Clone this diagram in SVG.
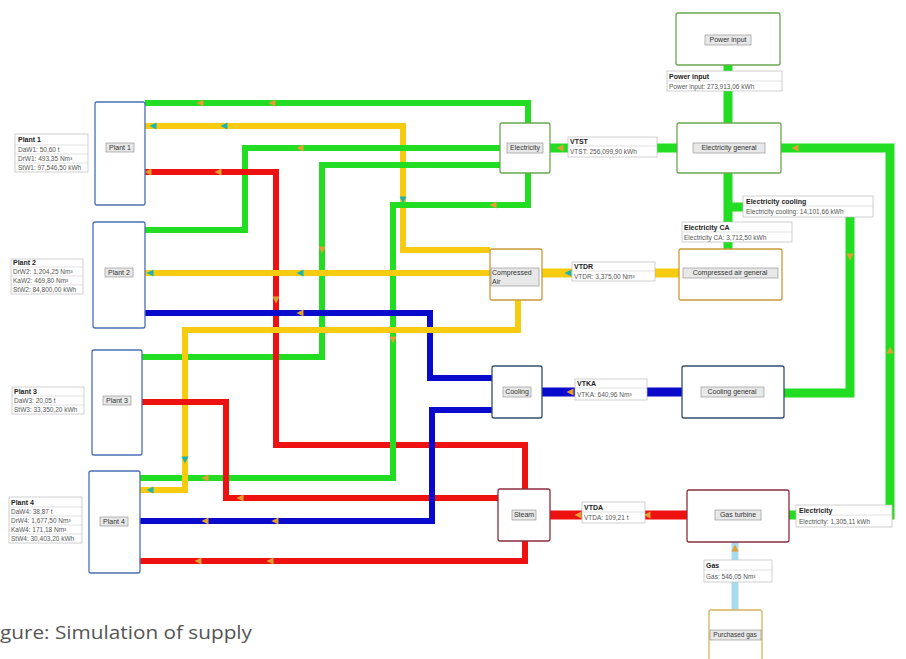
<svg xmlns="http://www.w3.org/2000/svg" width="906" height="659" viewBox="0 0 906 659">
<style>
text{font-family:"Liberation Sans",Arial,sans-serif;fill:#333}
.t{font-size:7px;text-anchor:middle;dominant-baseline:middle}
.h{font-size:7px;font-weight:bold;fill:#222}
.v{font-size:6.5px;fill:#555}
.ib{fill:#e8e8e8;stroke:#888;stroke-width:0.6}
.lb{fill:#fff;stroke:#bbb;stroke-width:0.7}
.p{fill:none;stroke-linejoin:miter}
.g{stroke:#22dd22}.y{stroke:#f7cc10}.r{stroke:#ee1111}.b{stroke:#0a0acc}.lbl{stroke:#a8daf0}
.n{fill:#fff;stroke-width:1.3}
.pl{stroke:#4a6fb5}.el{stroke:#6aa84f}.ca{stroke:#c99a3a}.co{stroke:#2f4f6f}.st{stroke:#8b2e3e}.pg{stroke:#d6b45a}
</style>
<defs>
<path id="ao" d="M-3.5,-3.5 L3.5,0 L-3.5,3.5 Z" fill="#e2a030"/>
<path id="ac" d="M-3.5,-3.5 L3.5,0 L-3.5,3.5 Z" fill="#1fb2b0"/>
</defs>
<rect width="906" height="659" fill="#fff"/>
<g id="connectors">
<polyline class="p g" stroke-width="6" points="145,103 528,103 528,123"/>
<polyline class="p y" stroke-width="6" points="145,126 403,126 403,250 490,250"/>
<polyline class="p g" stroke-width="6" points="145,230 245,230 245,148 500,148"/>
<polyline class="p g" stroke-width="6" points="500,165 322,165 322,357 142,357"/>
<polyline class="p r" stroke-width="6" points="145,172 276,172 276,445 525,445 525,489"/>
<polyline class="p g" stroke-width="6" points="528,173 528,205 393,205 393,478 140,478"/>
<polyline class="p y" stroke-width="6" points="145,273 490,273"/>
<polyline class="p b" stroke-width="6" points="145,313 430,313 430,378 492,378"/>
<polyline class="p y" stroke-width="6" points="518,300 518,330 185,330 185,490 140,490"/>
<polyline class="p r" stroke-width="6" points="142,402 226,402 226,498 498,498"/>
<polyline class="p b" stroke-width="6" points="140,521 432,521 432,410 492,410"/>
<polyline class="p r" stroke-width="6" points="140,561 525,561 525,541"/>
<line class="p g" stroke-width="9" x1="728" y1="65" x2="728" y2="123"/>
<line class="p g" stroke-width="9" x1="550" y1="148" x2="677" y2="148"/>
<line class="p g" stroke-width="9" x1="728" y1="173" x2="728" y2="249"/>
<polyline class="p g" stroke-width="9" points="728,207 850,207 850,393 784,393"/>
<polyline class="p g" stroke-width="9" points="781,148 890,148 890,515 789,515"/>
<line class="p y" stroke-width="9" x1="542" y1="273" x2="679" y2="273"/>
<line class="p b" stroke-width="9" x1="542" y1="392" x2="682" y2="392"/>
<line class="p r" stroke-width="9" x1="550" y1="515" x2="687" y2="515"/>
<line class="p lbl" stroke-width="7" x1="735" y1="542" x2="735" y2="610"/>
<use href="#ao" transform="translate(200,103) rotate(180)"/>
<use href="#ao" transform="translate(272,103) rotate(180)"/>
<use href="#ac" transform="translate(153,126) rotate(180)"/>
<use href="#ac" transform="translate(224,126) rotate(180)"/>
<use href="#ac" transform="translate(403,200) rotate(90)"/>
<use href="#ao" transform="translate(148,172) rotate(180)"/>
<use href="#ao" transform="translate(218,172) rotate(180)"/>
<use href="#ao" transform="translate(276,300) rotate(90)"/>
<use href="#ao" transform="translate(300,148) rotate(180)"/>
<use href="#ao" transform="translate(322,250) rotate(90)"/>
<use href="#ao" transform="translate(393,340) rotate(90)"/>
<use href="#ao" transform="translate(493,205) rotate(180)"/>
<use href="#ac" transform="translate(150,273) rotate(180)"/>
<use href="#ac" transform="translate(300,273) rotate(180)"/>
<use href="#ao" transform="translate(300,313) rotate(180)"/>
<use href="#ac" transform="translate(185,460) rotate(90)"/>
<use href="#ac" transform="translate(150,490) rotate(180)"/>
<use href="#ao" transform="translate(205,478) rotate(180)"/>
<use href="#ao" transform="translate(240,498) rotate(180)"/>
<use href="#ao" transform="translate(205,521) rotate(180)"/>
<use href="#ao" transform="translate(275,521) rotate(180)"/>
<use href="#ao" transform="translate(198,561) rotate(180)"/>
<use href="#ao" transform="translate(270,561) rotate(180)"/>
<use href="#ao" transform="translate(560,148) rotate(180)"/>
<use href="#ac" transform="translate(568,273) rotate(180)"/>
<use href="#ao" transform="translate(570,392) rotate(180)"/>
<use href="#ao" transform="translate(578,515) rotate(180)"/>
<use href="#ao" transform="translate(647,515) rotate(180)"/>
<use href="#ao" transform="translate(850,257) rotate(90)"/>
<use href="#ao" transform="translate(795,148) rotate(180)"/>
<use href="#ao" transform="translate(890,515) rotate(-90)"/>
<use href="#ao" transform="translate(890,350) rotate(-90)"/>
<use href="#ao" transform="translate(735,548) rotate(-90)"/>
</g>
<g id="plant1">
<rect class="n pl" x="95" y="102" width="50" height="103" rx="2"/>
<rect class="ib" x="106" y="143" width="28" height="9"/><text class="t" x="120" y="148">Plant 1</text>
</g>
<g id="plant2">
<rect class="n pl" x="93" y="222" width="52" height="106" rx="2"/>
<rect class="ib" x="105" y="268" width="28" height="9"/><text class="t" x="119" y="273">Plant 2</text>
</g>
<g id="plant3">
<rect class="n pl" x="92" y="350" width="50" height="105" rx="2"/>
<rect class="ib" x="103" y="396" width="28" height="9"/><text class="t" x="117" y="401">Plant 3</text>
</g>
<g id="plant4">
<rect class="n pl" x="89" y="471" width="51" height="102" rx="2"/>
<rect class="ib" x="100" y="517" width="28" height="9"/><text class="t" x="114" y="522">Plant 4</text>
</g>
<g id="label-plant1">
<rect class="lb" x="15" y="134" width="73" height="38"/>
<line x1="15" y1="145" x2="88" y2="145" stroke="#ccc" stroke-width="0.6"/>
<line x1="15" y1="154" x2="88" y2="154" stroke="#ccc" stroke-width="0.6"/>
<line x1="15" y1="163" x2="88" y2="163" stroke="#ccc" stroke-width="0.6"/>
<text class="h" x="18" y="142">Plant 1</text>
<text class="v" x="18" y="152">DaW1: 50,60 t</text>
<text class="v" x="18" y="161">DrW1: 493,35 Nm³</text>
<text class="v" x="18" y="170">StW1: 97,546,50 kWh</text>
</g>
<g id="label-plant2">
<rect class="lb" x="11" y="259" width="72" height="35"/>
<line x1="11" y1="267" x2="83" y2="267" stroke="#ccc" stroke-width="0.6"/>
<line x1="11" y1="276" x2="83" y2="276" stroke="#ccc" stroke-width="0.6"/>
<line x1="11" y1="285" x2="83" y2="285" stroke="#ccc" stroke-width="0.6"/>
<text class="h" x="13" y="265">Plant 2</text>
<text class="v" x="13" y="274">DrW2: 1,204,25 Nm³</text>
<text class="v" x="13" y="283">KaW2: 469,80 Nm³</text>
<text class="v" x="13" y="292">StW2: 84,800,00 kWh</text>
</g>
<g id="label-plant3">
<rect class="lb" x="12" y="387" width="72" height="27"/>
<line x1="12" y1="396" x2="84" y2="396" stroke="#ccc" stroke-width="0.6"/>
<line x1="12" y1="405" x2="84" y2="405" stroke="#ccc" stroke-width="0.6"/>
<text class="h" x="14" y="394">Plant 3</text>
<text class="v" x="14" y="403">DaW3: 20,05 t</text>
<text class="v" x="14" y="412">StW3: 33,350,20 kWh</text>
</g>
<g id="label-plant4">
<rect class="lb" x="9" y="497" width="73" height="46"/>
<line x1="9" y1="507" x2="82" y2="507" stroke="#ccc" stroke-width="0.6"/>
<line x1="9" y1="516" x2="82" y2="516" stroke="#ccc" stroke-width="0.6"/>
<line x1="9" y1="525" x2="82" y2="525" stroke="#ccc" stroke-width="0.6"/>
<line x1="9" y1="534" x2="82" y2="534" stroke="#ccc" stroke-width="0.6"/>
<text class="h" x="11" y="505">Plant 4</text>
<text class="v" x="11" y="514">DaW4: 38,87 t</text>
<text class="v" x="11" y="523">DrW4: 1,677,50 Nm³</text>
<text class="v" x="11" y="532">KaW4: 171,18 Nm³</text>
<text class="v" x="11" y="541">StW4: 30,403,20 kWh</text>
</g>
<g id="electricity">
<rect class="n el" x="500" y="123" width="50" height="50" rx="2"/>
<rect class="ib" x="507" y="143" width="36" height="10"/><text class="t" x="525" y="148">Electricity</text>
</g>
<g id="compressed-air">
<rect class="n ca" x="490" y="249" width="52" height="51" rx="2"/>
<rect class="ib" x="491" y="268" width="48" height="18"/>
<text style="font-size:7px" x="492" y="275">Compressed</text>
<text style="font-size:7px" x="492" y="284">Air</text>
</g>
<g id="cooling">
<rect class="n co" x="492" y="366" width="50" height="52" rx="2"/>
<rect class="ib" x="503" y="387" width="28" height="10"/><text class="t" x="517" y="392">Cooling</text>
</g>
<g id="steam">
<rect class="n st" x="498" y="489" width="52" height="52" rx="2"/>
<rect class="ib" x="512" y="510" width="24" height="10"/><text class="t" x="524" y="515">Steam</text>
</g>
<g id="power-input">
<rect class="n el" x="676" y="13" width="104" height="52" rx="2"/>
<rect class="ib" x="705" y="35" width="46" height="10"/><text class="t" x="728" y="40">Power input</text>
</g>
<g id="electricity-general">
<rect class="n el" x="677" y="123" width="104" height="50" rx="2"/>
<rect class="ib" x="693" y="143" width="72" height="10"/><text class="t" x="729" y="148">Electricity general</text>
</g>
<g id="compressed-air-general">
<rect class="n ca" x="679" y="249" width="103" height="51" rx="2"/>
<rect class="ib" x="683" y="268" width="95" height="10"/><text class="t" x="730" y="273">Compressed air general</text>
</g>
<g id="cooling-general">
<rect class="n co" x="682" y="366" width="102" height="52" rx="2"/>
<rect class="ib" x="701" y="387" width="63" height="10"/><text class="t" x="732" y="392">Cooling general</text>
</g>
<g id="gas-turbine">
<rect class="n st" x="687" y="490" width="102" height="52" rx="2"/>
<rect class="ib" x="715" y="510" width="46" height="10"/><text class="t" x="738" y="515">Gas turbine</text>
</g>
<g id="purchased-gas">
<rect class="n pg" x="709" y="610" width="53" height="55" rx="2"/>
<rect class="ib" x="710" y="630" width="51" height="10"/><text class="t" x="735" y="635" style="font-size:6.5px">Purchased gas</text>
</g>
<g id="label-power-input">
<rect class="lb" x="667" y="71" width="115" height="20"/>
<line x1="667" y1="81" x2="782" y2="81" stroke="#ccc" stroke-width="0.6"/>
<text class="h" x="669" y="79">Power input</text>
<text class="v" x="669" y="89">Power input: 273,913,06 kWh</text>
</g>
<g id="label-vtst">
<rect class="lb" x="568" y="137" width="89" height="20"/>
<line x1="568" y1="146" x2="657" y2="146" stroke="#ccc" stroke-width="0.6"/>
<text class="h" x="570" y="144">VTST</text>
<text class="v" x="570" y="154">VTST: 256,099,90 kWh</text>
</g>
<g id="label-electricity-cooling">
<rect class="lb" x="743" y="196" width="130" height="21"/>
<line x1="743" y1="206" x2="873" y2="206" stroke="#ccc" stroke-width="0.6"/>
<text class="h" x="746" y="204">Electricity cooling</text>
<text class="v" x="746" y="214">Electricity cooling: 14,101,66 kWh</text>
</g>
<g id="label-electricity-ca">
<rect class="lb" x="682" y="222" width="110" height="20"/>
<line x1="682" y1="232" x2="792" y2="232" stroke="#ccc" stroke-width="0.6"/>
<text class="h" x="684" y="230">Electricity CA</text>
<text class="v" x="684" y="240">Electricity CA: 3,712,50 kWh</text>
</g>
<g id="label-vtdr">
<rect class="lb" x="572" y="262" width="83" height="19"/>
<line x1="572" y1="271" x2="655" y2="271" stroke="#ccc" stroke-width="0.6"/>
<text class="h" x="574" y="269">VTDR</text>
<text class="v" x="574" y="279">VTDR: 3,375,00 Nm³</text>
</g>
<g id="label-vtka">
<rect class="lb" x="575" y="379" width="72" height="21"/>
<line x1="575" y1="388" x2="647" y2="388" stroke="#ccc" stroke-width="0.6"/>
<text class="h" x="577" y="386">VTKA</text>
<text class="v" x="577" y="397">VTKA: 640,96 Nm³</text>
</g>
<g id="label-vtda">
<rect class="lb" x="582" y="502" width="63" height="21"/>
<line x1="582" y1="512" x2="645" y2="512" stroke="#ccc" stroke-width="0.6"/>
<text class="h" x="584" y="510">VTDA</text>
<text class="v" x="584" y="520">VTDA: 109,21 t</text>
</g>
<g id="label-electricity-gt">
<rect class="lb" x="796" y="505" width="96" height="22"/>
<line x1="796" y1="515" x2="892" y2="515" stroke="#ccc" stroke-width="0.6"/>
<text class="h" x="799" y="513">Electricity</text>
<text class="v" x="799" y="524">Electricity: 1,305,11 kWh</text>
</g>
<g id="label-gas">
<rect class="lb" x="704" y="560" width="68" height="22"/>
<line x1="704" y1="570" x2="772" y2="570" stroke="#ccc" stroke-width="0.6"/>
<text class="h" x="706" y="568">Gas</text>
<text class="v" x="706" y="579">Gas: 546,05 Nm³</text>
</g>
<text x="0" y="639" textLength="252" lengthAdjust="spacingAndGlyphs" style="font-family:'Open Sans','Liberation Sans',sans-serif;font-size:19px;fill:#555">gure: Simulation of supply</text>
</svg>
